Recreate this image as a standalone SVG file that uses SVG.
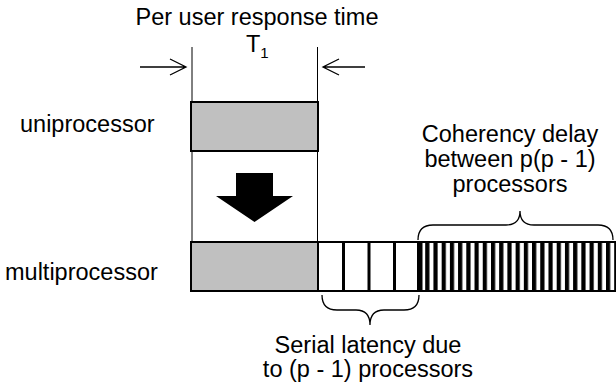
<svg xmlns="http://www.w3.org/2000/svg" width="616" height="390" viewBox="0 0 616 390">
  <style>
    .lbl { font-family: "Liberation Sans", Arial, sans-serif; font-size: 23.5px; fill: #000; }
    .mid { text-anchor: middle; }
    .bar { fill: #c0c0c0; stroke: #000; stroke-width: 2; }
    .cell { fill: #fff; stroke: #000; stroke-width: 2; }
    .thin { fill: none; stroke: #000; stroke-width: 1; }
    .dim { fill: none; stroke: #000; stroke-width: 1.3; }
    .brace { fill: none; stroke: #000; stroke-width: 1.3; }
  </style>
  <defs>
    <!-- vertical black bars for the coherency region -->
    <pattern id="stripes" patternUnits="userSpaceOnUse" x="417" y="0" width="8.217" height="10">
      <rect x="0" y="0" width="4.2" height="10" fill="#000"/>
    </pattern>
  </defs>

  <rect width="616" height="390" fill="#fff"/>

  <!-- response time window -->
  <g id="response-time">
    <text class="lbl mid" x="257" y="25">Per user response time</text>
    <text class="lbl" x="246" y="52">T<tspan font-size="15" dy="6">1</tspan></text>
    <line class="thin" x1="192" y1="47" x2="192" y2="242"/>
    <line class="thin" x1="317.5" y1="47" x2="317.5" y2="242"/>
  </g>

  <!-- uniprocessor bar -->
  <g id="uniprocessor">
    <text class="lbl" x="20" y="132">uniprocessor</text>
    <rect class="bar" x="191" y="102" width="127" height="49"/>
  </g>

  <!-- multiprocessor bar: work, serial latency cells, coherency delay -->
  <g id="multiprocessor">
    <text class="lbl" x="5" y="280">multiprocessor</text>
    <rect class="bar" x="191" y="242" width="127" height="49"/>
    <rect class="cell" x="318" y="242" width="101" height="49"/>
    <line x1="343.5" y1="242" x2="343.5" y2="291" stroke="#000" stroke-width="3"/>
    <line x1="369" y1="242" x2="369" y2="291" stroke="#000" stroke-width="3"/>
    <line x1="394.5" y1="242" x2="394.5" y2="291" stroke="#000" stroke-width="3"/>
    <rect x="417" y="242" width="200" height="49" fill="url(#stripes)"/>
    <line x1="417" y1="242" x2="616" y2="242" stroke="#000" stroke-width="2"/>
    <line x1="417" y1="291" x2="616" y2="291" stroke="#000" stroke-width="2"/>
    <rect x="417" y="242" width="5.5" height="49" fill="#000"/>
  </g>

  <!-- annotations -->
  <g id="coherency-label">
    <text class="lbl mid" x="510" y="142">Coherency delay</text>
    <text class="lbl mid" x="510" y="167">between p(p - 1)</text>
    <text class="lbl mid" x="510" y="192">processors</text>
  </g>
  <g id="serial-label">
    <text class="lbl mid" x="368" y="353">Serial latency due</text>
    <text class="lbl mid" x="368" y="377">to (p - 1) processors</text>
  </g>

  <g id="connectors">
    <!-- dimension arrows pointing at the window edges -->
    <path class="dim" d="M140,67 H186 M170,59 L186,67 L170,75"/>
    <path class="dim" d="M365,67 H323 M339,59 L323,67 L339,75"/>
    <!-- block arrow: uniprocessor to multiprocessor -->
    <polygon points="236,173 273,173 273,196 293,196 254.5,222 216,196 236,196" fill="#000"/>
    <!-- brace over coherency region -->
    <path class="brace" d="M418,240 Q418,225 433,225 L506,225 Q520,225 520,211 Q520,225 534,225 L598,225 Q613,225 613,240"/>
    <!-- brace under serial cells -->
    <path class="brace" d="M322,295 Q322,310 337,310 L356,310 Q370,310 370,325 Q370,310 384,310 L404,310 Q419,310 419,295"/>
  </g>
</svg>
